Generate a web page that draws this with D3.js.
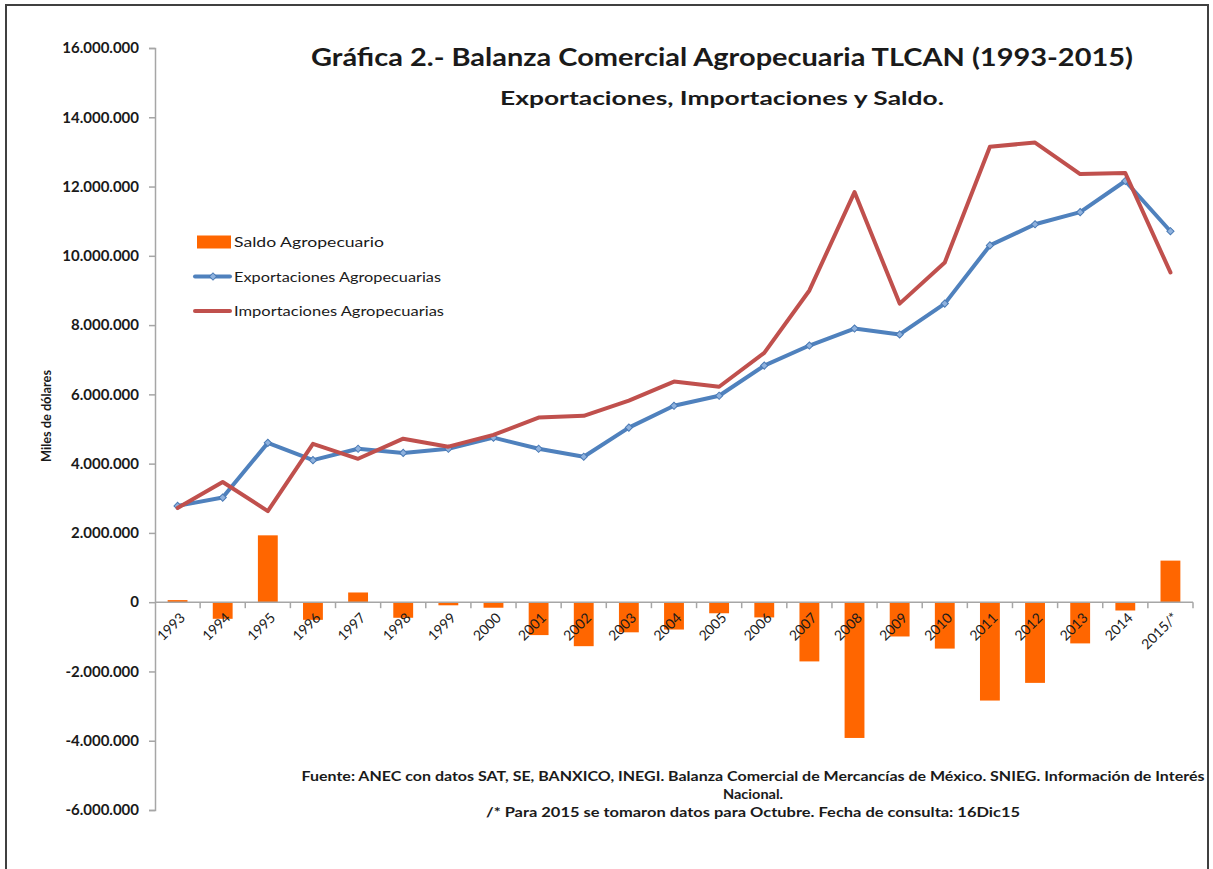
<!DOCTYPE html>
<html>
<head>
<meta charset="utf-8">
<script src="https://cdn.jsdelivr.net/npm/d3@7"></script>
<style>
  body { margin: 0; background: #fff; }
  svg text { font-family: Lato, "Open Sans", sans-serif; fill: #1a1a1a; }
</style>
</head>
<body>
<script>
// DATA (miles de dólares)
const years = ["1993", "1994", "1995", "1996", "1997", "1998", "1999", "2000", "2001", "2002", "2003", "2004",
    "2005", "2006", "2007", "2008", "2009", "2010", "2011", "2012", "2013", "2014", "2015/*"];

const exportaciones = [2780000, 3020000, 4600000, 4100000, 4430000, 4310000, 4430000, 4750000, 4430000, 4200000,
    5040000, 5670000, 5960000, 6830000, 7410000, 7900000, 7730000, 8620000, 10300000, 10910000, 11260000, 12160000, 10710000];

const importaciones = [2720000, 3470000, 2630000, 4570000, 4140000, 4720000, 4490000, 4830000, 5330000, 5380000,
    5820000, 6370000, 6220000, 7200000, 9000000, 11840000, 8620000, 9810000, 13150000, 13270000, 12360000, 12390000, 9520000];

const saldo = [60000, -480000, 1930000, -510000, 280000, -450000, -90000, -160000, -950000, -1270000, -870000,
    -790000, -320000, -440000, -1710000, -3920000, -990000, -1340000, -2840000, -2330000, -1190000, -240000, 1200000];

const yTicks = [-6000000, -4000000, -2000000, 0, 2000000, 4000000, 6000000, 8000000, 10000000, 12000000, 14000000, 16000000];

const seriesNames = ["Saldo Agropecuario", "Exportaciones Agropecuarias", "Importaciones Agropecuarias"];

const titleText = "Gráfica 2.- Balanza Comercial Agropecuaria TLCAN (1993-2015)";
const subtitleText = "Exportaciones, Importaciones y Saldo.";
const yTitle = "Miles de dólares";
const footerLines = [
    "Fuente: ANEC con datos  SAT, SE, BANXICO, INEGI. Balanza Comercial de Mercancías de México. SNIEG. Información de Interés",
    "Nacional.",
    "/* Para 2015 se tomaron datos para Octubre. Fecha de consulta: 16Dic15"
];

// COLORS
const orange = "#ff6600";
const blue = "#4f81bd";
const red = "#c0504d";
const axisGray = "#a6a6a6";

// SVG
const W = 1213, H = 869;
const svg = d3.select("body").append("svg")
    .attr("width", W)
    .attr("height", H);

// FRAME (open at the bottom, the picture is cut there)
svg.append("path")
    .attr("d", `M6,${H} V5 H1208 V${H}`)
    .attr("fill", "none")
    .attr("stroke", "#404040")
    .attr("stroke-width", 2);

// SCALES
const y = d3.scaleLinear()
    .domain([-6000000, 16000000])
    .range([810, 48]);

const x = d3.scaleBand()
    .domain(years)
    .range([155, 1193])
    .paddingInner(0.56)
    .paddingOuter(0.28);

const cx = d => x(d) + x.bandwidth() / 2;
const y0 = y(0);

const fmt = d3.formatLocale({ decimal: ",", thousands: ".", grouping: [3], currency: ["$", ""], minus: "-" }).format(",.0f");

// Y AXIS
const yAxis = svg.append("g")
    .attr("transform", `translate(${x.range()[0]},0)`)
    .call(d3.axisLeft(y).tickValues(yTicks).tickFormat(fmt).tickSize(6).tickPadding(10));

yAxis.select(".domain").attr("stroke", axisGray).attr("stroke-width", 1.5);
yAxis.selectAll(".tick line").attr("stroke", axisGray).attr("stroke-width", 1.5);
yAxis.selectAll(".tick text")
    .attr("font-size", "15px")
    .attr("font-weight", "bold")
    .style("font-family", "Lato, sans-serif")
    .attr("fill", "#1a1a2a");

svg.append("text")
    .attr("transform", `translate(51,416) rotate(-90)`)
    .attr("text-anchor", "middle")
    .attr("font-size", "13px")
    .attr("font-weight", "bold")
    .attr("textLength", 92)
    .attr("lengthAdjust", "spacingAndGlyphs")
    .text(yTitle);

// BARS (SALDO)
svg.append("g").selectAll("rect")
    .data(years)
    .join("rect")
    .attr("x", d => x(d))
    .attr("width", x.bandwidth())
    .attr("y", (d, i) => Math.min(y(saldo[i]), y0))
    .attr("height", (d, i) => Math.abs(y(saldo[i]) - y0))
    .attr("fill", orange);

// X AXIS AT ZERO
svg.append("line")
    .attr("x1", x.range()[0]).attr("x2", x.range()[1])
    .attr("y1", y0).attr("y2", y0)
    .attr("stroke", axisGray)
    .attr("stroke-width", 1.5);

const boundaries = d3.range(1, years.length + 1).map(i => x.range()[0] + i * x.step());
svg.append("g").selectAll("line")
    .data(boundaries)
    .join("line")
    .attr("x1", d => d).attr("x2", d => d)
    .attr("y1", y0).attr("y2", y0 + 6)
    .attr("stroke", axisGray)
    .attr("stroke-width", 1.5);

svg.append("g").selectAll("text")
    .data(years)
    .join("text")
    .attr("transform", d => `translate(${cx(d) + 5},${y0 + 13}) rotate(-45)`)
    .attr("text-anchor", "end")
    .attr("dy", "0.35em")
    .attr("font-size", "14px")
    .attr("fill", "#1f1f1f")
    .text(d => d);

// LINES
const line = d3.line()
    .x((d, i) => cx(years[i]))
    .y(d => y(d));

svg.append("path")
    .datum(exportaciones)
    .attr("d", line)
    .attr("fill", "none")
    .attr("stroke", blue)
    .attr("stroke-width", 4)
    .attr("stroke-linejoin", "round")
    .attr("stroke-linecap", "round");

const marker = d3.symbol().type(d3.symbolSquare).size(26);

svg.append("g").selectAll("path")
    .data(exportaciones)
    .join("path")
    .attr("d", marker)
    .attr("transform", (d, i) => `translate(${cx(years[i])},${y(d)}) rotate(45)`)
    .attr("fill", "#8fb2de")
    .attr("stroke", "#4a7ab5")
    .attr("stroke-width", 1);

svg.append("path")
    .datum(importaciones)
    .attr("d", line)
    .attr("fill", "none")
    .attr("stroke", red)
    .attr("stroke-width", 4)
    .attr("stroke-linejoin", "round")
    .attr("stroke-linecap", "round");

// LEGEND
const legend = svg.append("g").attr("transform", "translate(193,242)");
const legendWidths = [150, 207, 210];

seriesNames.forEach((name, i) => {
    const row = legend.append("g").attr("transform", `translate(0,${i * 34.5})`);
    if (i === 0) {
        row.append("rect")
            .attr("x", 4).attr("y", -6.5)
            .attr("width", 34).attr("height", 13)
            .attr("fill", orange);
    } else {
        row.append("line")
            .attr("x1", 2).attr("x2", 37)
            .attr("stroke", i === 1 ? blue : red)
            .attr("stroke-width", 4)
            .attr("stroke-linecap", "round");
        if (i === 1) {
            row.append("path")
                .attr("d", marker)
                .attr("transform", "translate(20,0) rotate(45)")
                .attr("fill", "#8fb2de")
                .attr("stroke", "#4a7ab5");
        }
    }
    row.append("text")
        .attr("x", 41)
        .attr("y", 5)
        .attr("font-size", "14px")
        .attr("textLength", legendWidths[i])
        .attr("lengthAdjust", "spacingAndGlyphs")
        .text(name);
});

// TITLES
svg.append("text")
    .attr("x", 722).attr("y", 66)
    .attr("text-anchor", "middle")
    .attr("font-size", "25px")
    .attr("font-weight", "bold")
    .attr("textLength", 822)
    .attr("lengthAdjust", "spacingAndGlyphs")
    .text(titleText);

svg.append("text")
    .attr("x", 722).attr("y", 105)
    .attr("text-anchor", "middle")
    .attr("font-size", "19px")
    .attr("font-weight", "bold")
    .attr("textLength", 444)
    .attr("lengthAdjust", "spacingAndGlyphs")
    .text(subtitleText);

// FOOTER
const footerWidths = [903, 60, 534];
footerLines.forEach((t, i) => {
    svg.append("text")
        .attr("x", 753).attr("y", 781 + i * 18)
        .attr("text-anchor", "middle")
        .attr("font-size", "12.5px")
        .attr("font-weight", "bold")
        .attr("textLength", footerWidths[i])
        .attr("lengthAdjust", "spacingAndGlyphs")
        .text(t);
});
</script>
</body>
</html>
